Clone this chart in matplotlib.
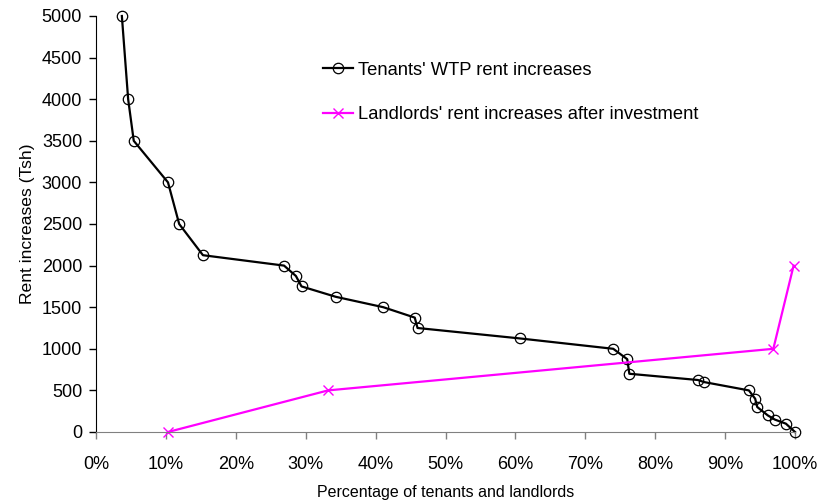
import matplotlib.pyplot as plt
from matplotlib.ticker import FuncFormatter

plt.rcParams['font.family'] = ['Liberation Sans', 'DejaVu Sans']

# tenants' willingness to pay (percent of tenants, rent increase in Tsh)
tenant_pct = [3.7, 4.6, 5.4, 10.3, 11.9, 15.3, 26.9, 28.6, 29.4, 34.3, 41.1, 45.6, 46.0,
              60.6, 74.0, 76.0, 76.3, 86.1, 87.0, 93.4, 94.3, 94.6, 96.1, 97.1, 98.7, 100.0]
tenant_rent = [5000, 4000, 3500, 3000, 2500, 2125, 2000, 1875, 1750, 1625, 1500, 1375, 1250,
               1125, 1000, 875, 700, 625, 600, 500, 400, 300, 200, 150, 100, 0]

# landlords' rent increases after investment
landlord_pct = [10.3, 33.2, 96.9, 99.8]
landlord_rent = [0, 500, 1000, 2000]

fig = plt.figure(figsize=(8.23, 5.01), dpi=100)
ax = fig.add_axes([96 / 823, 1 - 432 / 501, (795 - 96) / 823, (432 - 16) / 501])

ax.plot(tenant_pct, tenant_rent, color='black', lw=1.6, marker='o', ms=7.5,
        mfc='none', mec='black', mew=0.9, label="Tenants' WTP rent increases", clip_on=False)
ax.plot(landlord_pct, landlord_rent, color='#ff00ff', lw=1.6, marker='x', ms=7,
        mew=1.0, label="Landlords' rent increases after investment", clip_on=False)

ax.set_xlim(0, 100)
ax.set_ylim(0, 5000)
ax.set_xticks(range(0, 101, 10))
ax.set_yticks(range(0, 5001, 500))
ax.xaxis.set_major_formatter(FuncFormatter(lambda v, p: f"{int(v)}%"))

for s in ['top', 'right']:
    ax.spines[s].set_visible(False)
ax.spines['left'].set_color('black')
ax.spines['bottom'].set_color('#808080')
ax.tick_params(axis='both', labelsize=13, length=5, width=1, direction='out')
ax.tick_params(axis='x', colors='#808080', labelcolor='black', pad=12)
ax.tick_params(axis='y', pad=5)

ax.set_ylabel('Rent increases (Tsh)', fontsize=12.6, labelpad=5)
ax.set_xlabel('Percentage of tenants and landlords', fontsize=11.5, labelpad=9)

ax.legend(loc='upper left', bbox_to_anchor=(0.325, 0.89), frameon=False, fontsize=13.2,
          handlelength=1.6, handletextpad=0.3, labelspacing=1.5, borderaxespad=0,
          borderpad=0)

fig.savefig('out.png', dpi=100)
